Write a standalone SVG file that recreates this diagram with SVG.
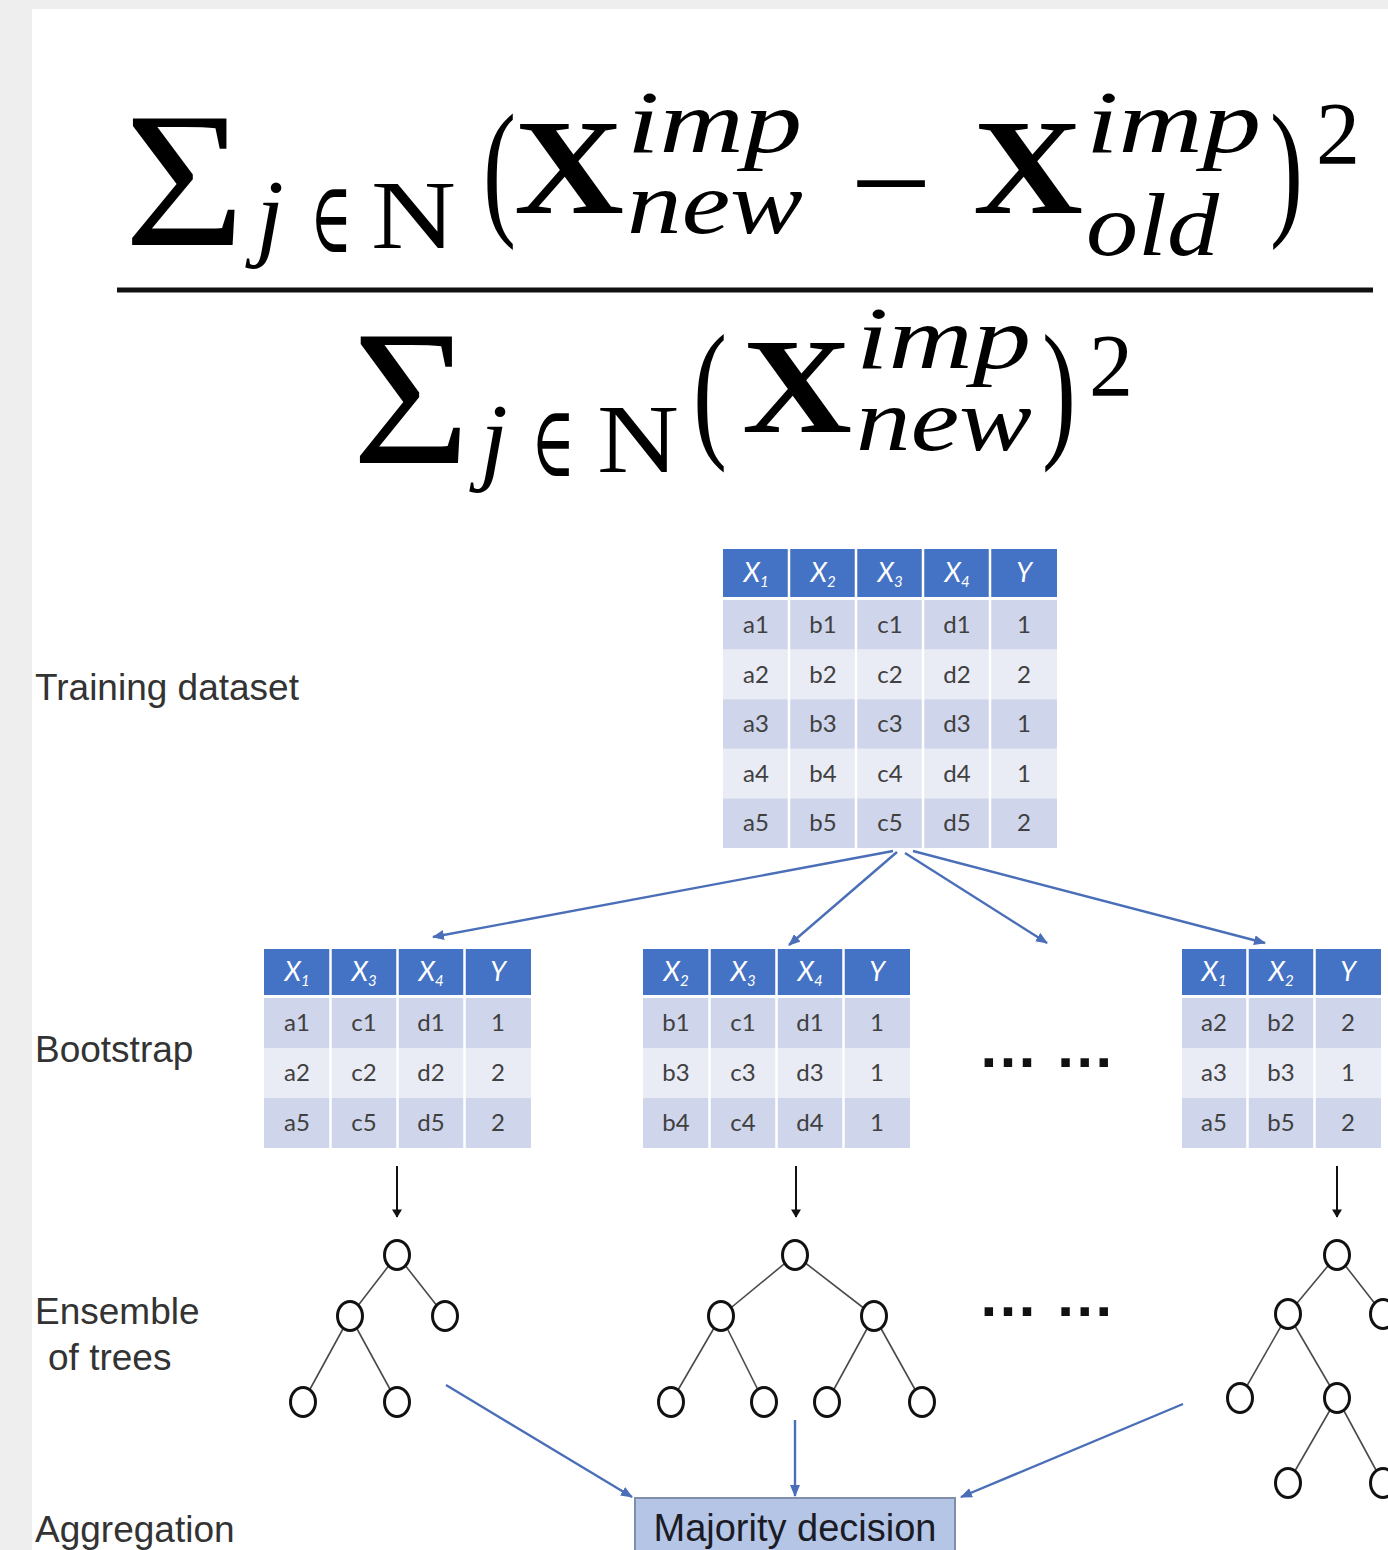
<svg xmlns="http://www.w3.org/2000/svg" width="1388" height="1550" viewBox="0 0 1388 1550">
<defs>
<style>
.math{font-family:"Liberation Serif","DejaVu Serif",serif;fill:#000}
.bx{font-weight:bold}
.it{font-style:italic}
.el{font-family:"DejaVu Sans","DejaVu Serif",sans-serif;font-weight:200}
.lbl{font-family:"Liberation Sans",Arial,sans-serif;font-size:37px;fill:#333}
.hdr{fill:#4472C4}
.b1{fill:#CFD5EA}
.b2{fill:#E9EBF5}
.sep{stroke:#fff;stroke-width:2.5}
.ht{font-family:Lato,"Liberation Sans",sans-serif;font-size:27px;fill:#fff;text-anchor:middle;font-style:italic}
.ct{font-family:Lato,"Liberation Sans",sans-serif;font-size:24px;fill:#404040;text-anchor:middle}
.edge{stroke:#4a4a4a;stroke-width:1.6;fill:none}
.nd{fill:#fff;stroke:#111;stroke-width:3}
.blue{stroke:#4A6FB8;stroke-width:2.4;fill:none;marker-end:url(#ab)}
.blk{stroke:#111;stroke-width:2;fill:none;marker-end:url(#ak)}
.dots{font-family:"Liberation Sans",Arial,sans-serif;font-weight:bold;font-size:60px;fill:#111}
</style>
<marker id="ab" viewBox="0 0 12 10" refX="11" refY="5" markerWidth="12" markerHeight="10" markerUnits="userSpaceOnUse" orient="auto">
<path d="M0,0 L12,5 L0,10 z" fill="#4A6FB8"/>
</marker>
<marker id="ak" viewBox="0 0 10 12" refX="9" refY="6" markerWidth="12" markerHeight="10" markerUnits="userSpaceOnUse" orient="auto">
<path d="M0,0 L10,6 L0,12 z" fill="#111"/>
</marker>
</defs>
<rect x="0" y="0" width="1388" height="1550" fill="#eeeeee"/>
<rect x="32" y="9" width="1356" height="1541" fill="#ffffff"/>

<g id="formula" class="math">
<text x="124" y="245" font-size="193" textLength="121" lengthAdjust="spacingAndGlyphs">Σ</text>
<text x="256" y="248" font-size="100" class="it">j</text>
<text x="310" y="252" font-size="100" class="el" textLength="42" lengthAdjust="spacingAndGlyphs">∈</text>
<text x="371" y="248" font-size="98" textLength="85" lengthAdjust="spacingAndGlyphs">N</text>
<text x="483" y="218" font-size="150" textLength="33" lengthAdjust="spacingAndGlyphs">(</text>
<text x="514" y="213" font-size="136" class="bx" textLength="110" lengthAdjust="spacingAndGlyphs">X</text>
<text x="627" y="152" font-size="88" class="it" textLength="175" lengthAdjust="spacingAndGlyphs">imp</text>
<text x="627" y="233" font-size="88" class="it" textLength="176" lengthAdjust="spacingAndGlyphs">new</text>
<text x="850" y="229" font-size="136" textLength="82" lengthAdjust="spacingAndGlyphs">−</text>
<text x="973" y="213" font-size="136" class="bx" textLength="110" lengthAdjust="spacingAndGlyphs">X</text>
<text x="1086" y="152" font-size="88" class="it" textLength="175" lengthAdjust="spacingAndGlyphs">imp</text>
<text x="1086" y="255" font-size="88" class="it" textLength="133" lengthAdjust="spacingAndGlyphs">old</text>
<text x="1270" y="218" font-size="150" textLength="33" lengthAdjust="spacingAndGlyphs">)</text>
<text x="1316" y="163" font-size="88">2</text>
<rect x="117" y="287.5" width="1256" height="5" fill="#111"/>
<text x="352" y="463" font-size="193" textLength="118" lengthAdjust="spacingAndGlyphs">Σ</text>
<text x="480" y="472" font-size="100" class="it">j</text>
<text x="531" y="476" font-size="100" class="el" textLength="44" lengthAdjust="spacingAndGlyphs">∈</text>
<text x="597" y="472" font-size="98" textLength="82" lengthAdjust="spacingAndGlyphs">N</text>
<text x="693" y="440" font-size="152" textLength="34" lengthAdjust="spacingAndGlyphs">(</text>
<text x="742" y="432" font-size="136" class="bx" textLength="110" lengthAdjust="spacingAndGlyphs">X</text>
<text x="856" y="368" font-size="88" class="it" textLength="175" lengthAdjust="spacingAndGlyphs">imp</text>
<text x="856" y="450" font-size="88" class="it" textLength="176" lengthAdjust="spacingAndGlyphs">new</text>
<text x="1042" y="440" font-size="152" textLength="34" lengthAdjust="spacingAndGlyphs">)</text>
<text x="1089" y="395" font-size="88">2</text>
</g>

<g id="labels">
<text class="lbl" x="35" y="700">Training dataset</text>
<text class="lbl" x="35" y="1062">Bootstrap</text>
<text class="lbl" x="35" y="1324">Ensemble</text>
<text class="lbl" x="48" y="1370">of trees</text>
<text class="lbl" x="35" y="1542">Aggregation</text>
</g>

<g id="training-table">
<rect class="hdr" x="723" y="549" width="334" height="48"/>
<rect class="b1" x="723" y="600" width="334" height="49.6"/>
<rect class="b2" x="723" y="649.6" width="334" height="49.6"/>
<rect class="b1" x="723" y="699.2" width="334" height="49.6"/>
<rect class="b2" x="723" y="748.8" width="334" height="49.6"/>
<rect class="b1" x="723" y="798.4" width="334" height="49.6"/>
<path class="sep" d="M789,549V848M856,549V848M923,549V848M990,549V848"/>
<text class="ht" x="756" y="582">X<tspan font-size="15" dy="5">1</tspan></text>
<text class="ht" x="823" y="582">X<tspan font-size="15" dy="5">2</tspan></text>
<text class="ht" x="890" y="582">X<tspan font-size="15" dy="5">3</tspan></text>
<text class="ht" x="957" y="582">X<tspan font-size="15" dy="5">4</tspan></text>
<text class="ht" x="1024" y="582">Y</text>
<g class="ct">
<text x="756" y="633">a1</text><text x="823" y="633">b1</text><text x="890" y="633">c1</text><text x="957" y="633">d1</text><text x="1024" y="633">1</text>
<text x="756" y="683">a2</text><text x="823" y="683">b2</text><text x="890" y="683">c2</text><text x="957" y="683">d2</text><text x="1024" y="683">2</text>
<text x="756" y="732">a3</text><text x="823" y="732">b3</text><text x="890" y="732">c3</text><text x="957" y="732">d3</text><text x="1024" y="732">1</text>
<text x="756" y="782">a4</text><text x="823" y="782">b4</text><text x="890" y="782">c4</text><text x="957" y="782">d4</text><text x="1024" y="782">1</text>
<text x="756" y="831">a5</text><text x="823" y="831">b5</text><text x="890" y="831">c5</text><text x="957" y="831">d5</text><text x="1024" y="831">2</text>
</g>
</g>

<g id="bootstrap-1">
<rect class="hdr" x="264" y="949" width="267" height="46"/>
<rect class="b1" x="264" y="998" width="267" height="50"/>
<rect class="b2" x="264" y="1048" width="267" height="50"/>
<rect class="b1" x="264" y="1098" width="267" height="50"/>
<path class="sep" d="M330.5,949V1148M397.5,949V1148M464.5,949V1148"/>
<text class="ht" x="297" y="981">X<tspan font-size="15" dy="5">1</tspan></text>
<text class="ht" x="364" y="981">X<tspan font-size="15" dy="5">3</tspan></text>
<text class="ht" x="431" y="981">X<tspan font-size="15" dy="5">4</tspan></text>
<text class="ht" x="498" y="981">Y</text>
<g class="ct">
<text x="297" y="1031">a1</text><text x="364" y="1031">c1</text><text x="431" y="1031">d1</text><text x="498" y="1031">1</text>
<text x="297" y="1081">a2</text><text x="364" y="1081">c2</text><text x="431" y="1081">d2</text><text x="498" y="1081">2</text>
<text x="297" y="1131">a5</text><text x="364" y="1131">c5</text><text x="431" y="1131">d5</text><text x="498" y="1131">2</text>
</g>
</g>

<g id="bootstrap-2">
<rect class="hdr" x="643" y="949" width="267" height="46"/>
<rect class="b1" x="643" y="998" width="267" height="50"/>
<rect class="b2" x="643" y="1048" width="267" height="50"/>
<rect class="b1" x="643" y="1098" width="267" height="50"/>
<path class="sep" d="M709.5,949V1148M776.5,949V1148M843.5,949V1148"/>
<text class="ht" x="676" y="981">X<tspan font-size="15" dy="5">2</tspan></text>
<text class="ht" x="743" y="981">X<tspan font-size="15" dy="5">3</tspan></text>
<text class="ht" x="810" y="981">X<tspan font-size="15" dy="5">4</tspan></text>
<text class="ht" x="877" y="981">Y</text>
<g class="ct">
<text x="676" y="1031">b1</text><text x="743" y="1031">c1</text><text x="810" y="1031">d1</text><text x="877" y="1031">1</text>
<text x="676" y="1081">b3</text><text x="743" y="1081">c3</text><text x="810" y="1081">d3</text><text x="877" y="1081">1</text>
<text x="676" y="1131">b4</text><text x="743" y="1131">c4</text><text x="810" y="1131">d4</text><text x="877" y="1131">1</text>
</g>
</g>

<g id="bootstrap-n">
<rect class="hdr" x="1182" y="949" width="199" height="46"/>
<rect class="b1" x="1182" y="998" width="199" height="50"/>
<rect class="b2" x="1182" y="1048" width="199" height="50"/>
<rect class="b1" x="1182" y="1098" width="199" height="50"/>
<path class="sep" d="M1247.5,949V1148M1314.5,949V1148"/>
<text class="ht" x="1214" y="981">X<tspan font-size="15" dy="5">1</tspan></text>
<text class="ht" x="1281" y="981">X<tspan font-size="15" dy="5">2</tspan></text>
<text class="ht" x="1348" y="981">Y</text>
<g class="ct">
<text x="1214" y="1031">a2</text><text x="1281" y="1031">b2</text><text x="1348" y="1031">2</text>
<text x="1214" y="1081">a3</text><text x="1281" y="1081">b3</text><text x="1348" y="1081">1</text>
<text x="1214" y="1131">a5</text><text x="1281" y="1131">b5</text><text x="1348" y="1131">2</text>
</g>
</g>

<g id="ellipsis-bootstrap"><text class="dots" x="978" y="1067">… …</text></g>
<g id="ellipsis-trees"><text class="dots" x="978" y="1316">… …</text></g>

<g id="tree-1">
<path class="edge" d="M397,1255L350,1316M397,1255L445,1316M350,1316L303,1402M350,1316L397,1402"/>
<ellipse class="nd" cx="397" cy="1255" rx="12.5" ry="14.5"/>
<ellipse class="nd" cx="350" cy="1316" rx="12.5" ry="14.5"/>
<ellipse class="nd" cx="445" cy="1316" rx="12.5" ry="14.5"/>
<ellipse class="nd" cx="303" cy="1402" rx="12.5" ry="14.5"/>
<ellipse class="nd" cx="397" cy="1402" rx="12.5" ry="14.5"/>
</g>

<g id="tree-2">
<path class="edge" d="M795,1255L721,1316M795,1255L874,1316M721,1316L671,1402M721,1316L764,1402M874,1316L827,1402M874,1316L922,1402"/>
<ellipse class="nd" cx="795" cy="1255" rx="12.5" ry="14.5"/>
<ellipse class="nd" cx="721" cy="1316" rx="12.5" ry="14.5"/>
<ellipse class="nd" cx="874" cy="1316" rx="12.5" ry="14.5"/>
<ellipse class="nd" cx="671" cy="1402" rx="12.5" ry="14.5"/>
<ellipse class="nd" cx="764" cy="1402" rx="12.5" ry="14.5"/>
<ellipse class="nd" cx="827" cy="1402" rx="12.5" ry="14.5"/>
<ellipse class="nd" cx="922" cy="1402" rx="12.5" ry="14.5"/>
</g>

<g id="tree-n">
<path class="edge" d="M1337,1255L1288,1314M1337,1255L1383,1314M1288,1314L1240,1398M1288,1314L1337,1398M1337,1398L1288,1483M1337,1398L1383,1483"/>
<ellipse class="nd" cx="1337" cy="1255" rx="12.5" ry="14.5"/>
<ellipse class="nd" cx="1288" cy="1314" rx="12.5" ry="14.5"/>
<ellipse class="nd" cx="1383" cy="1314" rx="12.5" ry="14.5"/>
<ellipse class="nd" cx="1240" cy="1398" rx="12.5" ry="14.5"/>
<ellipse class="nd" cx="1337" cy="1398" rx="12.5" ry="14.5"/>
<ellipse class="nd" cx="1288" cy="1483" rx="12.5" ry="14.5"/>
<ellipse class="nd" cx="1383" cy="1483" rx="12.5" ry="14.5"/>
</g>

<g id="majority-decision">
<rect x="635" y="1498" width="320" height="60" fill="#B4C5E6" stroke="#7F8FA8" stroke-width="2"/>
<text x="795" y="1541" text-anchor="middle" font-family="Liberation Sans,Arial,sans-serif" font-size="38" fill="#1b1b26">Majority decision</text>
</g>

<g id="connectors">
<path class="blue" d="M893,851L433,937"/>
<path class="blue" d="M897,852L789,945"/>
<path class="blue" d="M905,853L1047,943"/>
<path class="blue" d="M913,851L1265,943"/>
<path class="blk" d="M397,1166V1217"/>
<path class="blk" d="M796,1166V1217"/>
<path class="blk" d="M1337,1166V1217"/>
<path class="blue" d="M446,1385L632,1497"/>
<path class="blue" d="M795,1420V1496"/>
<path class="blue" d="M1183,1404L961,1497"/>
</g>
</svg>
